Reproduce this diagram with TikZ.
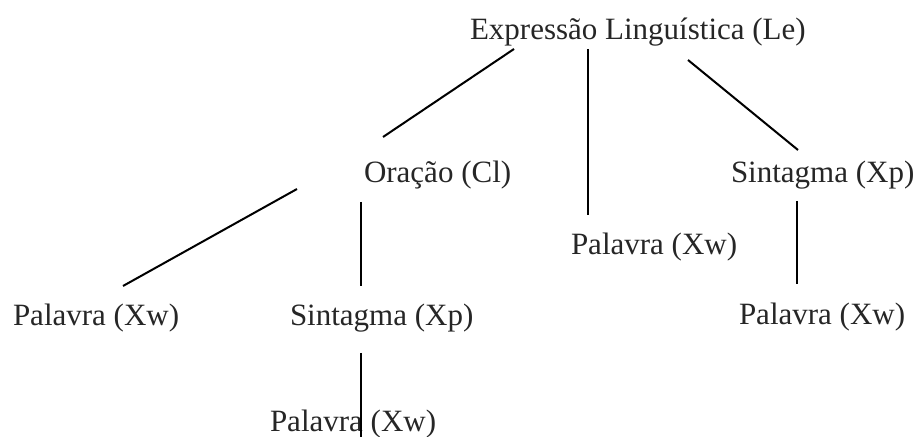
\documentclass[tikz,border=0pt]{standalone}
\usepackage{fontspec}
\setmainfont{Liberation Serif}
\begin{document}
\begin{tikzpicture}[x=0.5pt,y=-0.5pt,line width=1pt,
		lbl/.style={anchor=base west,inner sep=0pt,font=\fontsize{15.5}{18}\selectfont,text=black!85}]
		\useasboundingbox (0,0) rectangle (915,437);
		\node[lbl] (le) at (469,40) {Expressão Linguística (Le)};
		\node[lbl] (cl) at (363,183) {Oração (Cl)};
		\node[lbl] (xpr) at (730,183) {Sintagma (Xp)};
		\node[lbl] (xwm) at (570,255) {Palavra (Xw)};
		\node[lbl] (xwl) at (12,326) {Palavra (Xw)};
		\node[lbl] (xpl) at (289,326) {Sintagma (Xp)};
		\node[lbl] (xwr) at (738,325) {Palavra (Xw)};
		\node[lbl] (xwb) at (269,432) {Palavra (Xw)};
		\coordinate (le1) at (514,49);
		\coordinate (le2) at (588,49);
		\coordinate (le3) at (688,60);
		\coordinate (cl0) at (383,137);
		\coordinate (xwm0) at (588,215);
		\coordinate (xpr0) at (798,150);
		\coordinate (cl1) at (297,189);
		\coordinate (cl2) at (361,202);
		\coordinate (xwl0) at (123,286);
		\coordinate (xpl0) at (361,286);
		\coordinate (xpr1) at (797,201);
		\coordinate (xwr0) at (797,284);
		\coordinate (xpl1) at (361,353);
		\coordinate (xwb0) at (361,437);
		\draw (le1)--(cl0);
		\draw (le2)--(xwm0);
		\draw (le3)--(xpr0);
		\draw (cl1)--(xwl0);
		\draw (cl2)--(xpl0);
		\draw (xpr1)--(xwr0);
		\draw (xpl1)--(xwb0);
	\end{tikzpicture}
\end{document}
